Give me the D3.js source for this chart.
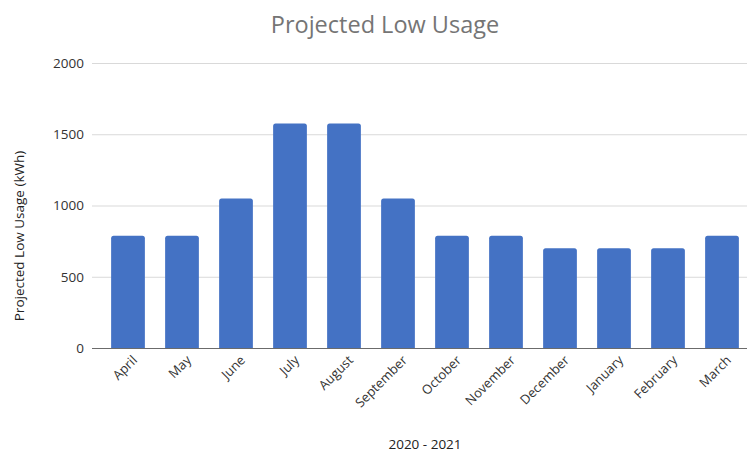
<!DOCTYPE html>
<html>
<head>
<meta charset="utf-8">
<script src="https://cdn.jsdelivr.net/npm/d3@7"></script>
<style>
  html, body { margin: 0; padding: 0; background: #fff; }
  svg { display: block; }
  text { font-family: "Open Sans", "Noto Sans", sans-serif; }
</style>
</head>
<body>
<svg id="chart" width="747" height="455"></svg>
<script>
// Monthly projected low usage, April 2020 – March 2021
const months = ["April", "May", "June", "July", "August", "September",
                "October", "November", "December", "January", "February", "March"];
const usage = [788, 788, 1050, 1575, 1575, 1050, 788, 788, 700, 700, 700, 788];
const yTicks = [0, 500, 1000, 1500, 2000];

const titleText = "Projected Low Usage";
const yTitle = "Projected Low Usage (kWh)";
const xTitle = "2020 - 2021";

const svg = d3.select("#chart");
const W = 747, H = 455;

const plot = { left: 101, right: 749, top: 63, bottom: 348, gridLeft: 92 };

const x = d3.scaleBand()
  .domain(months)
  .range([plot.left, plot.right])
  .paddingInner(0.375)
  .paddingOuter(0.1875);

const y = d3.scaleLinear()
  .domain([0, 2000])
  .range([plot.bottom, plot.top]);

// Title
svg.append("text")
  .attr("x", 385)
  .attr("y", 33)
  .attr("text-anchor", "middle")
  .attr("fill", "#757575")
  .attr("font-size", 23.5)
  .text(titleText);

// Horizontal gridlines
svg.append("g")
  .selectAll("line")
  .data(yTicks.filter(d => d > 0))
  .join("line")
  .attr("x1", plot.gridLeft)
  .attr("x2", W)
  .attr("y1", d => y(d) + 0.5)
  .attr("y2", d => y(d) + 0.5)
  .attr("stroke", "#d9d9d9")
  .attr("stroke-width", 1);

// Y axis labels
const yAxis = d3.axisLeft(y).tickValues(yTicks).tickFormat(d3.format("d"))
  .tickSize(0).tickPadding(0);
const gy = svg.append("g")
  .attr("transform", `translate(${plot.gridLeft - 8},0)`)
  .call(yAxis);
gy.select(".domain").remove();
gy.selectAll("text")
  .attr("font-size", 13.5)
  .attr("fill", "#333")
  .attr("font-family", "\"Open Sans\", sans-serif");

// Bars
const r = 2.5;
svg.append("g")
  .selectAll("path")
  .data(months.map((m, i) => ({ m, v: usage[i] })))
  .join("path")
  .attr("fill", "#4472c4")
  .attr("d", d => {
    const x0 = x(d.m), w = x.bandwidth();
    const y0 = y(d.v), y1 = y(0);
    return `M${x0},${y1}V${y0 + r}Q${x0},${y0} ${x0 + r},${y0}` +
           `H${x0 + w - r}Q${x0 + w},${y0} ${x0 + w},${y0 + r}V${y1}Z`;
  });

// Baseline
svg.append("line")
  .attr("x1", plot.gridLeft)
  .attr("x2", W)
  .attr("y1", y(0) + 0.5)
  .attr("y2", y(0) + 0.5)
  .attr("stroke", "#6b6b6b")
  .attr("stroke-width", 1.2);

// X axis labels, rotated
const xAxis = d3.axisBottom(x).tickSize(0).tickPadding(0);
const gx = svg.append("g")
  .attr("transform", `translate(0,${plot.bottom})`)
  .call(xAxis);
gx.select(".domain").remove();
gx.selectAll("text")
  .attr("font-size", 13)
  .attr("fill", "#333")
  .attr("font-family", "\"Open Sans\", sans-serif")
  .attr("text-anchor", "end")
  .attr("dy", null)
  .attr("y", 0)
  .attr("transform", "translate(10,13) rotate(-45)");

// Axis titles
svg.append("text")
  .attr("transform", "translate(24,236) rotate(-90)")
  .attr("text-anchor", "middle")
  .attr("font-size", 13.5)
  .attr("fill", "#222")
  .text(yTitle);

svg.append("text")
  .attr("x", 425)
  .attr("y", 449)
  .attr("text-anchor", "middle")
  .attr("font-size", 13.5)
  .attr("fill", "#222")
  .text(xTitle);
</script>
</body>
</html>
